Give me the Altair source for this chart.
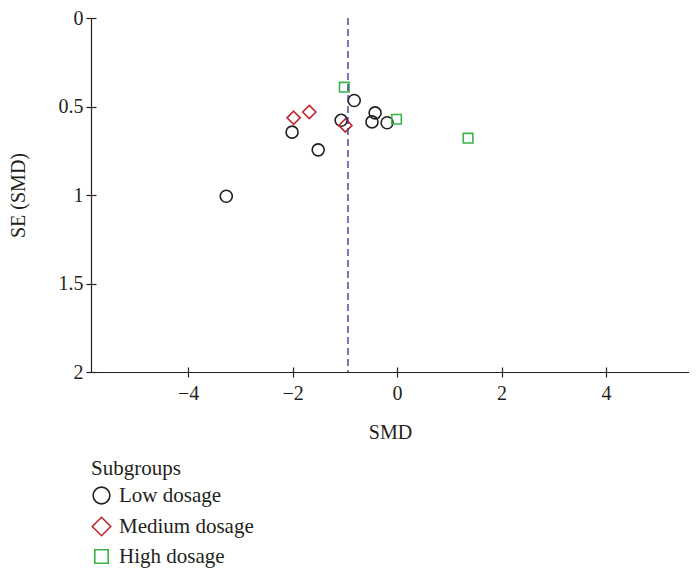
import altair as alt
import pandas as pd

# ---- data ----
groups = ["Low dosage"] * 8 + ["Medium dosage"] * 3 + ["High dosage"] * 3
smd = [-0.82, -1.07, -0.42, -0.48, -0.19, -2.01, -1.51, -3.27,
       -1.98, -1.68, -0.99,
       -1.01, -0.01, 1.36]
se = [0.466, 0.578, 0.536, 0.587, 0.592, 0.645, 0.745, 1.007,
      0.564, 0.531, 0.607,
      0.391, 0.572, 0.679]
pooled_smd = [-0.94]

group_order = ["Low dosage", "Medium dosage", "High dosage"]
group_colors = ["#231f20", "#c1272d", "#39b54a"]
# circle, slightly enlarged diamond, slightly reduced square
group_shapes = ["circle",
                "M0,-1.1L1.1,0L0,1.1L-1.1,0Z",
                "M-0.8,-0.8L0.8,-0.8L0.8,0.8L-0.8,0.8Z"]

x_ticks = [-4, -2, 0, 2, 4]
y_ticks = [0, 0.5, 1, 1.5, 2]

df = pd.DataFrame({"SMD": smd, "SE": se, "Group": groups})
pooled_df = pd.DataFrame({"SMD": pooled_smd})

W, H = 598, 354
FONT = "Liberation Serif"
INK = "#231f20"

xscale = alt.Scale(domain=[-5.86, 5.59], nice=False, zero=False)
yscale = alt.Scale(domain=[0, 2], reverse=True, nice=False, zero=False)

legend = alt.Legend(
    title="Subgroups", orient="none", legendX=0, legendY=440,
    symbolSize=280, symbolStrokeWidth=1.6, rowPadding=6,
    titlePadding=6, labelOffset=7, padding=0,
)

points = alt.Chart(df).mark_point(filled=False, strokeWidth=1.6, opacity=1, size=144).encode(
    x=alt.X("SMD:Q", scale=xscale,
            axis=alt.Axis(orient="bottom", values=x_ticks, format="d", title="SMD",
                          tickSize=5, labelPadding=6,
                          titleY=60, titleBaseline="middle")),
    y=alt.Y("SE:Q", scale=yscale,
            axis=alt.Axis(orient="left", values=y_ticks, format="~g", title="SE (SMD)",
                          tickSize=5, labelPadding=3,
                          titleX=-73, titleY=H / 2, titleAngle=270,
                          titleAlign="center", titleBaseline="middle")),
    color=alt.Color("Group:N", scale=alt.Scale(domain=group_order, range=group_colors),
                    legend=legend),
    shape=alt.Shape("Group:N", scale=alt.Scale(domain=group_order, range=group_shapes),
                    legend=legend),
)

rule = alt.Chart(pooled_df).mark_rule(color="#2e3192", strokeDash=[7, 4], strokeWidth=1.3).encode(
    x=alt.X("SMD:Q", scale=xscale,
            axis=alt.Axis(orient="bottom", offset=-5, values=x_ticks, labels=False,
                          domain=False, title=None, tickSize=5)),
    y=alt.Y(datum=0, type="quantitative", scale=yscale,
            axis=alt.Axis(orient="left", offset=-5, values=y_ticks, labels=False,
                          domain=False, title=None, tickSize=5)),
    y2=alt.Y2(datum=2),
)

chart = alt.layer(points, rule).resolve_axis(x="independent", y="independent").properties(
    width=W, height=H,
    autosize=alt.AutoSizeParams(type="none"),
    padding={"left": 83, "top": 10, "right": 0, "bottom": 204},
).configure_view(stroke=None).configure_axis(
    grid=False, labelFont=FONT, titleFont=FONT, labelFontSize=20, titleFontSize=20,
    titleFontWeight="normal", labelColor=INK, titleColor=INK,
    domainColor=INK, tickColor=INK, domainWidth=1.2, tickWidth=1.2,
).configure_legend(
    labelFont=FONT, titleFont=FONT, labelFontSize=21, titleFontSize=21,
    titleFontWeight="normal", labelColor=INK, titleColor=INK,
)

chart.save("out.html", embed_options={"renderer": "svg", "actions": False})
